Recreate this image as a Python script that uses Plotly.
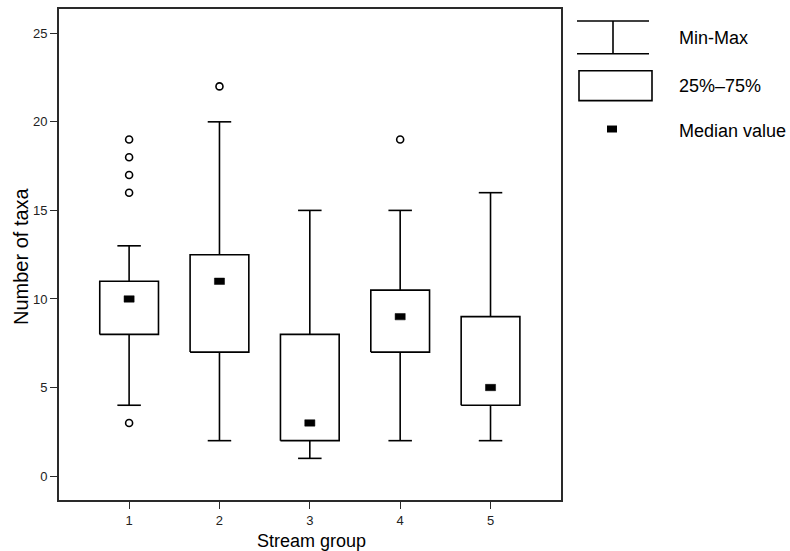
import plotly.graph_objects as go

# ---- data ----
groups = [1, 2, 3, 4, 5]
mins = [4, 2, 1, 2, 2]
q1s = [8, 7, 2, 7, 4]
medians = [10, 11, 3, 9, 5]
q3s = [11, 12.5, 8, 10.5, 9]
maxs = [13, 20, 15, 15, 16]
outlier_groups = [1, 1, 1, 1, 1, 2, 4]
outlier_values = [16, 17, 18, 19, 3, 22, 19]
y_ticks = [0, 5, 10, 15, 20, 25]
legend_labels = ["Min-Max", "25%\u201375%", "Median value"]

# ---- style ----
BOX_HW = 0.325
CAP_HW = 0.13
MED_HW = 0.056
MED_HH = 0.18
LINE_W = 1.6
FONT = "Liberation Sans, Arial, sans-serif"

W, H = 790, 551
ML, MR, MT, MB = 59, 229, 7, 51
XR = [0.224, 5.78]
YR = [-1.35, 26.37]

fig = go.Figure()

# boxes
bx, by = [], []
for g, a, b in zip(groups, q1s, q3s):
    bx += [g - BOX_HW, g + BOX_HW, g + BOX_HW, g - BOX_HW, g - BOX_HW, None]
    by += [a, a, b, b, a, None]
fig.add_trace(go.Scatter(x=bx, y=by, mode="lines",
                         line=dict(color="black", width=LINE_W), hoverinfo="skip"))

# whiskers and caps
wx, wy = [], []
for g, lo, a, b, hi in zip(groups, mins, q1s, q3s, maxs):
    wx += [g, g, None, g, g, None,
           g - CAP_HW, g + CAP_HW, None, g - CAP_HW, g + CAP_HW, None]
    wy += [b, hi, None, a, lo, None, hi, hi, None, lo, lo, None]
fig.add_trace(go.Scatter(x=wx, y=wy, mode="lines",
                         line=dict(color="black", width=LINE_W), hoverinfo="skip"))

# medians as small filled rectangles
mx, my = [], []
for g, m in zip(groups, medians):
    mx += [g - MED_HW, g + MED_HW, g + MED_HW, g - MED_HW, g - MED_HW, None]
    my += [m - MED_HH, m - MED_HH, m + MED_HH, m + MED_HH, m - MED_HH, None]
fig.add_trace(go.Scatter(x=mx, y=my, mode="lines", fill="toself",
                         fillcolor="black", line=dict(color="black", width=0.5),
                         hoverinfo="skip"))

# outliers
fig.add_trace(go.Scatter(x=outlier_groups, y=outlier_values, mode="markers",
                         marker=dict(symbol="circle-open", size=7, color="black",
                                     line=dict(width=1.6)),
                         hoverinfo="skip"))

pw = W - ML - MR
ph = H - MT - MB


def px2paper(px, py):
    return (px - ML) / pw, (H - MB - py) / ph


shapes = []
line = dict(color="black", width=LINE_W)
# Min-Max icon
x0, y0 = px2paper(577, 19)
x1, y1 = px2paper(649, 19)
shapes.append(dict(type="line", xref="paper", yref="paper", x0=x0, y0=y0, x1=x1, y1=y1, line=line))
x0, y0 = px2paper(577, 52)
x1, y1 = px2paper(649, 52)
shapes.append(dict(type="line", xref="paper", yref="paper", x0=x0, y0=y0, x1=x1, y1=y1, line=line))
x0, y0 = px2paper(613, 19)
x1, y1 = px2paper(613, 52)
shapes.append(dict(type="line", xref="paper", yref="paper", x0=x0, y0=y0, x1=x1, y1=y1, line=line))
# box icon
x0, y0 = px2paper(579, 69)
x1, y1 = px2paper(652, 99)
shapes.append(dict(type="rect", xref="paper", yref="paper", x0=x0, y0=y0, x1=x1, y1=y1,
                   line=line, fillcolor="white"))
# median icon
x0, y0 = px2paper(607, 124)
x1, y1 = px2paper(617, 131)
shapes.append(dict(type="rect", xref="paper", yref="paper", x0=x0, y0=y0, x1=x1, y1=y1,
                   line=dict(width=0), fillcolor="black"))

annotations = []
for lab, py in zip(legend_labels, [36, 84, 129]):
    ax, ay = px2paper(677, py)
    annotations.append(dict(text=lab, xref="paper", yref="paper", x=ax, y=ay,
                            xanchor="left", yanchor="middle", showarrow=False,
                            font=dict(family=FONT, size=18, color="black")))
ax, ay = px2paper(21, 255)
annotations.append(dict(text="Number of taxa", xref="paper", yref="paper", x=ax, y=ay,
                        textangle=-90, xanchor="center", yanchor="middle", showarrow=False,
                        font=dict(family=FONT, size=20, color="black")))
ax, ay = px2paper(311, 541)
annotations.append(dict(text="Stream group", xref="paper", yref="paper", x=ax, y=ay,
                        xanchor="center", yanchor="middle", showarrow=False,
                        font=dict(family=FONT, size=18, color="black")))

axis_common = dict(showgrid=False, zeroline=False, showline=True, mirror=True,
                   linecolor="#2a2a2a", linewidth=1.8, ticks="outside", ticklen=7,
                   tickwidth=1.3, tickcolor="#2a2a2a",
                   tickfont=dict(family=FONT, size=13, color="#222"))

fig.update_layout(
    width=W, height=H,
    margin=dict(l=ML, r=MR, t=MT, b=MB),
    paper_bgcolor="white", plot_bgcolor="white",
    showlegend=False,
    xaxis=dict(range=XR, tickvals=groups, ticktext=[str(g) for g in groups], **axis_common),
    yaxis=dict(range=YR, tickvals=y_ticks, **axis_common),
    shapes=shapes, annotations=annotations,
)

fig.write_html("out.html", config={"displayModeBar": False},
               post_script="document.body.style.margin='0';document.body.style.overflow='hidden';")
